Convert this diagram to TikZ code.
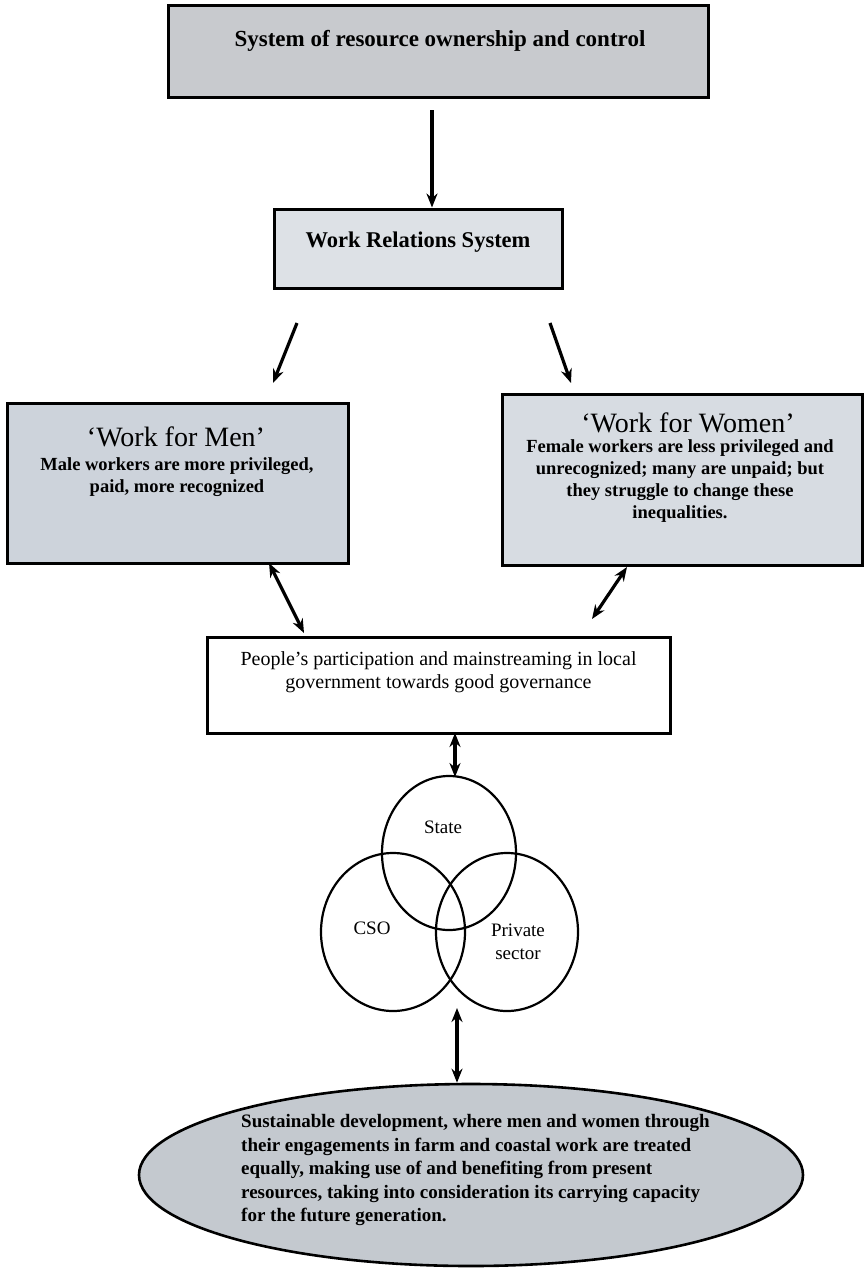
\documentclass[tikz,border=0pt]{standalone}
\usepackage{fontspec}
\setmainfont{Liberation Serif}
\usetikzlibrary{arrows.meta,shapes.geometric}

\definecolor{topgray}{HTML}{C8CACE}
\definecolor{relgray}{HTML}{DDE1E6}
\definecolor{workgray}{HTML}{CDD3DB}
\definecolor{ovalgray}{HTML}{C4C9CF}

\newcommand*{\bodyfont}{\fontsize{18.5}{22}\bfseries\selectfont}

\begin{document}
\begin{tikzpicture}[x=1pt,y=-1pt,
    box/.style={draw=black, line width=3pt, inner sep=0pt},
    txt/.style={align=center, inner sep=0pt},
    arr/.style={line width=3.2pt, -{Stealth[length=14pt,width=11pt]}},
    darr/.style={line width=3.2pt, {Stealth[length=14pt,width=11pt]}-{Stealth[length=14pt,width=11pt]}},
    sector/.style={draw=black, line width=2.2pt, ellipse, inner sep=0pt}]
  \useasboundingbox (0,0) rectangle (867,1269);
  % boxes
  \node[box, fill=topgray, minimum width=540pt, minimum height=92pt] (own) at (438,51) {};
  \node[txt, font=\fontsize{23}{27}\bfseries\selectfont] (owntext) at (440,41) {System of resource ownership and control};
  \node[box, fill=relgray, minimum width=288pt, minimum height=79pt] (rel) at (418,248.5) {};
  \node[txt, font=\fontsize{22.5}{26}\bfseries\selectfont] (reltext) at (418,242) {Work Relations System};
  \node[box, fill=workgray, minimum width=341pt, minimum height=160pt] (men) at (177.5,483) {};
  \node[txt, font=\fontsize{28}{32}\selectfont] (mentitle) at (176,437) {`Work for Men'};
  \node[txt, font=\bodyfont] (mentext) at (177,477) {Male workers are more privileged,\\paid, more recognized};
  \node[box, fill=workgray!80!white, minimum width=360pt, minimum height=171pt] (women) at (682,479.5) {};
  \node[txt, font=\fontsize{28}{32}\selectfont] (womentitle) at (688,423) {`Work for Women'};
  \node[txt, font=\bodyfont] (womentext) at (680,481.5) {Female workers are less privileged and\\unrecognized; many are unpaid; but\\they struggle to change these\\inequalities.};
  \node[box, fill=white, minimum width=463pt, minimum height=96pt] (people) at (438.5,685) {};
  \node[txt, font=\fontsize{20}{23}\selectfont] (peopletext) at (438.5,672) {People's participation and mainstreaming in local\\government towards good governance};
  % three sectors
  \node[sector, minimum width=144pt, minimum height=158pt] (cso) at (393,932) {};
  \node[sector, minimum width=142pt, minimum height=158pt] (private) at (507,932) {};
  \node[sector, minimum width=134pt, minimum height=154pt] (state) at (449,853) {};
  \node[txt, font=\fontsize{19}{23}\selectfont] (statetext) at (443,827) {State};
  \node[txt, font=\fontsize{19}{23}\selectfont] (csotext) at (372,928) {CSO};
  \node[txt, font=\fontsize{19}{23}\selectfont] (privatetext) at (518,942) {Private\\sector};
  % goal
  \node[box, line width=2.6pt, ellipse, fill=ovalgray, minimum width=664pt, minimum height=182pt] (goal) at (471,1175) {};
  \node[txt, align=left, anchor=west, font=\fontsize{19}{23.5}\bfseries\selectfont] (goaltext) at (241,1170) {Sustainable development, where men and women through\\their engagements in farm and coastal work are treated\\equally, making use of and benefiting from present\\resources, taking into consideration its carrying capacity\\for the future generation.};
  % connectors
  \coordinate (ownout) at (432,110);
  \draw[arr] (ownout) -- (ownout |- rel.north);
  \coordinate (relmen) at (297,323);
  \coordinate (menin) at (273,383);
  \coordinate (relwomen) at (550,323);
  \coordinate (womenin) at (571,383);
  \draw[arr] (relmen) -- (menin);
  \draw[arr] (relwomen) -- (womenin);
  \coordinate (menout) at (269,563);
  \coordinate (peoplemen) at (304,633);
  \coordinate (womenout) at (627,567);
  \coordinate (peoplewomen) at (592,619);
  \draw[darr] (menout) -- (peoplemen);
  \draw[darr] (womenout) -- (peoplewomen);
  \coordinate (peopleout) at (455,733);
  \draw[darr] (peopleout) -- (455,777);
  \coordinate (sectorout) at (457,1008);
  \draw[darr] (sectorout) -- (sectorout |- goal.north);
\end{tikzpicture}
\end{document}
